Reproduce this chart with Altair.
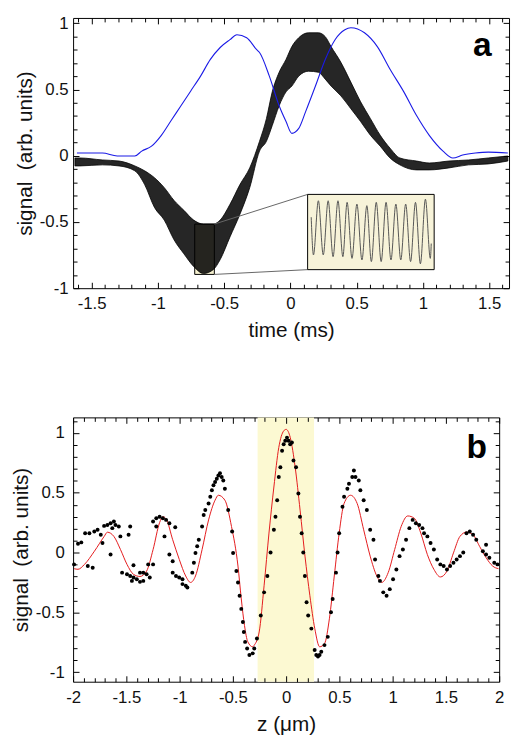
import altair as alt
import pandas as pd

FONT = "Liberation Sans"

# ---------------- Panel a : time traces ----------------
blue_t = [-1.611, -1.419, -1.307, -1.174, -1.122, -1.048, -0.974, -0.900, -0.826, -0.752,
          -0.678, -0.604, -0.530, -0.456, -0.404, -0.330, -0.256, -0.233, -0.159, -0.085,
          -0.033, 0.011, 0.063, 0.115, 0.189, 0.263, 0.337, 0.411, 0.456, 0.559,
          0.656, 0.752, 0.856, 0.952, 1.048, 1.152, 1.226, 1.300, 1.396, 1.493, 1.641]
blue_s = [0.020, 0.020, -0.002, -0.002, 0.035, 0.072, 0.154, 0.266, 0.377, 0.489,
          0.601, 0.727, 0.817, 0.876, 0.913, 0.891, 0.802, 0.779, 0.601, 0.377,
          0.258, 0.169, 0.206, 0.333, 0.526, 0.727, 0.876, 0.951, 0.966, 0.928,
          0.824, 0.653, 0.482, 0.303, 0.154, 0.035, -0.017, 0.005, 0.020, 0.027, 0.020]

black_t = [-1.626, -1.589, -1.419, -1.293, -1.174, -1.100, -1.026, -0.952, -0.878, -0.804,
           -0.730, -0.656, -0.581, -0.530, -0.456, -0.381, -0.307, -0.233, -0.181, -0.137,
           -0.085, -0.033, 0.011, 0.063, 0.137, 0.211, 0.263, 0.307, 0.381, 0.456,
           0.530, 0.604, 0.678, 0.752, 0.826, 0.952, 1.048, 1.196, 1.344, 1.493, 1.641]
black_hi = [-0.017, -0.017, -0.032, -0.040, -0.077, -0.114, -0.166, -0.241, -0.338, -0.412,
            -0.486, -0.516, -0.516, -0.486, -0.367, -0.218, -0.092, 0.109, 0.280, 0.482,
            0.630, 0.727, 0.824, 0.891, 0.928, 0.928, 0.899, 0.824, 0.705, 0.556,
            0.407, 0.280, 0.154, 0.057, -0.017, -0.040, -0.055, -0.040, -0.032, -0.017, -0.002]
black_lo = [-0.077, -0.077, -0.069, -0.077, -0.114, -0.218, -0.390, -0.486, -0.635, -0.740,
            -0.836, -0.889, -0.859, -0.784, -0.613, -0.442, -0.241, 0.035, 0.109, 0.228,
            0.377, 0.482, 0.526, 0.601, 0.638, 0.630, 0.578, 0.526, 0.452, 0.355,
            0.258, 0.154, 0.072, -0.017, -0.069, -0.107, -0.107, -0.092, -0.069, -0.062, -0.040]

# zoomed fringes shown in the inset (already placed in the inset frame)
inset_t = [0.157, 0.174, 0.211, 0.248, 0.285, 0.322, 0.359, 0.396, 0.428, 0.465,
           0.502, 0.540, 0.577, 0.611, 0.648, 0.685, 0.722, 0.759, 0.796, 0.833,
           0.870, 0.907, 0.944, 0.981, 1.019, 1.056, 1.063]
inset_s = [-0.464, -0.749, -0.340, -0.749, -0.340, -0.762, -0.340, -0.762, -0.352, -0.775,
           -0.365, -0.787, -0.377, -0.799, -0.352, -0.799, -0.352, -0.787, -0.365, -0.787,
           -0.365, -0.799, -0.352, -0.816, -0.328, -0.775, -0.663]

zoom_box = {"t0": [-0.722], "t1": [-0.574], "s0": [-0.896], "s1": [-0.516]}
inset_box = {"t0": [0.130], "t1": [1.085], "s0": [-0.860], "s1": [-0.292]}
connect = {"t0": [-0.574, -0.574], "s0": [-0.516, -0.896], "t1": [0.130, 0.130], "s1": [-0.292, -0.860]}

# ---------------- Panel b : z scan ----------------
fit_z = [-1.990, -1.954, -1.893, -1.800, -1.708, -1.678, -1.617, -1.555, -1.494, -1.433,
         -1.372, -1.310, -1.249, -1.188, -1.157, -1.126, -1.065, -1.003, -0.943, -0.897,
         -0.851, -0.789, -0.728, -0.667, -0.636, -0.575, -0.513, -0.452, -0.421, -0.391,
         -0.360, -0.314, -0.299, -0.253, -0.207, -0.161, -0.115, -0.069, -0.023, 0.000,
         0.039, 0.085, 0.131, 0.177, 0.223, 0.269, 0.315, 0.361, 0.406, 0.452,
         0.498, 0.544, 0.605, 0.667, 0.728, 0.789, 0.851, 0.897, 0.958, 1.019,
         1.080, 1.142, 1.203, 1.264, 1.326, 1.387, 1.448, 1.510, 1.571, 1.632,
         1.694, 1.755, 1.816, 1.878, 1.939, 1.994]
fit_s = [-0.135, -0.140, -0.099, 0.011, 0.135, 0.170, 0.135, 0.025, -0.099, -0.182,
         -0.200, -0.155, 0.025, 0.250, 0.300, 0.280, 0.107, -0.058, -0.196, -0.250,
         -0.196, 0.025, 0.273, 0.438, 0.479, 0.438, 0.218, -0.113, -0.388, -0.609,
         -0.746, -0.788, -0.774, -0.664, -0.278, 0.163, 0.548, 0.878, 1.017, 1.030,
         0.961, 0.713, 0.355, -0.030, -0.361, -0.636, -0.788, -0.760, -0.554, -0.196,
         0.163, 0.410, 0.479, 0.410, 0.190, -0.030, -0.196, -0.250, -0.168, 0.025,
         0.218, 0.306, 0.287, 0.163, -0.017, -0.140, -0.204, -0.155, -0.003, 0.135,
         0.171, 0.149, 0.052, -0.044, -0.113, -0.135]

dot_z = [-1.991, -1.954, -1.923, -1.887, -1.862, -1.816, -1.847, -1.801, -1.770, -1.740,
         -1.709, -1.678, -1.648, -1.617, -1.724, -1.648, -1.602, -1.571, -1.632, -1.556,
         -1.540, -1.494, -1.464, -1.433, -1.402, -1.448, -1.372, -1.341, -1.479, -1.464,
         -1.433, -1.341, -1.310, -1.280, -1.295, -1.249, -1.372,
         -1.249, -1.219, -1.188, -1.157, -1.127, -1.096, -1.219, -1.142, -1.041,
         -1.096, -1.065, -1.065, -1.034, -1.004, -0.973, -0.942, -0.927, -0.973,
         -0.881, -0.866, -0.851, -0.835, -0.820, -0.789, -0.774, -0.759, -0.728, -0.712,
         -0.697, -0.682, -0.667, -0.651, -0.636, -0.621, -0.605, -0.590, -0.575, -0.544,
         -0.507, -0.498, -0.467, -0.452, -0.437, -0.421, -0.406, -0.397, -0.385, -0.366,
         -0.345, -0.314,
         -0.299, -0.274, -0.238, -0.207, -0.176, -0.146, -0.115, -0.100, -0.084, -0.069,
         -0.054, -0.038, -0.023, -0.008, 0.008, 0.023, 0.038, 0.054, 0.069, 0.093,
         0.115, 0.130, 0.146, 0.161, 0.176, 0.192, 0.207, 0.237, 0.268, 0.283,
         0.299, 0.314, 0.330, 0.360, 0.391, 0.421, 0.437, 0.468, 0.483, 0.498,
         0.529, 0.544, 0.575, 0.590, 0.621, 0.636, 0.651, 0.682, 0.697, 0.728,
         0.758, 0.789, 0.820, 0.835, 0.866, 0.881, 0.912, 0.943, 0.973, 1.004,
         1.035, 1.065, 1.096, 1.126, 1.157, 1.188, 1.218, 1.249, 1.280, 1.295,
         1.326, 1.356, 1.387, 1.418, 1.448, 1.479, 1.510, 1.540, 1.571, 1.601,
         1.632, 1.663, 1.693, 1.724, 1.755, 1.785, 1.847, 1.877, 1.908, 1.954,
         1.985, 1.877]
dot_s = [-0.099, 0.074, 0.085, 0.162, -0.113, -0.127, 0.162, 0.176, 0.190, 0.149,
         0.223, 0.231, 0.245, 0.259, 0.080, -0.016, 0.231, 0.218, 0.204, 0.135,
         -0.168, -0.182, -0.196, -0.209, -0.223, -0.237, -0.245, -0.237, 0.149, 0.218,
         -0.107, -0.168, -0.182, -0.209, -0.099, -0.099, -0.168,
         0.259, 0.287, 0.300, 0.287, 0.273, 0.245, 0.218, 0.135, 0.212,
         -0.016, -0.072, -0.168, -0.196, -0.209, -0.223, -0.278, -0.292, -0.264,
         -0.168, -0.085, -0.003, 0.052, 0.107, 0.218, 0.314, 0.355, 0.410, 0.466,
         0.521, 0.562, 0.590, 0.617, 0.645, 0.664, 0.631, 0.603, 0.534, 0.355,
         0.176, -0.003, -0.154, -0.251, -0.361, -0.471, -0.581, -0.664, -0.747, -0.802,
         -0.857, -0.843,
         -0.802, -0.719, -0.526, -0.333, -0.196, 0.000, 0.190, 0.300, 0.438, 0.631,
         0.713, 0.851, 0.906, 0.934, 0.961, 0.934, 0.906, 0.920, 0.769, 0.713,
         0.493, 0.300, 0.162, 0.000, -0.196, -0.416, -0.526, -0.636, -0.815, -0.857,
         -0.870, -0.857, -0.829, -0.774, -0.705, -0.499, -0.388, -0.168, 0.000, 0.162,
         0.383, 0.466, 0.534, 0.576, 0.631, 0.686, 0.631, 0.603, 0.521, 0.438,
         0.355, 0.190, 0.107, -0.058, -0.196, -0.237, -0.333, -0.361, -0.306, -0.223,
         -0.141, -0.030, 0.025, 0.107, 0.204, 0.273, 0.245, 0.231, 0.204, 0.162,
         0.135, 0.080, 0.025, -0.058, -0.099, -0.113, -0.141, -0.113, -0.085, -0.058,
         -0.030, 0.000, 0.162, 0.176, 0.149, 0.107, 0.011, -0.016, -0.044, -0.085,
         -0.099, 0.066]

band = {"z0": [-0.268], "z1": [0.262], "s0": [-1.08], "s1": [1.13]}
panel_labels = ["a", "b"]

# ---------------- axes helpers (inward ticks on all four sides) ----------------
COMMON = dict(domain=False, grid=False, tickColor="black", minExtent=0, zindex=1)


def major(orient, values, title=None, pad=8, tpad=8):
    show = orient in ("bottom", "left")
    kw = dict(orient=orient, values=values, tickSize=6, offset=-6, tickWidth=1,
              labels=show, labelFlush=False, labelOverlap=False,
              labelExpr="'' + datum.value", labelFont=FONT, labelFontSize=17,
              labelColor="#111", labelPadding=pad, **COMMON)
    if show:
        kw.update(title=title, titleFont=FONT, titleFontSize=21, titleFontWeight="normal",
                  titleColor="#111", titlePadding=tpad)
    else:
        kw.update(title=None)
    return alt.Axis(**kw)


def minor(orient, values):
    return alt.Axis(orient=orient, values=values, tickSize=4, offset=-4, labels=False,
                    title=None, tickWidth=1, **COMMON)


def tenths(lo, hi):
    vals = [round(v / 10, 1) for v in range(int(round(lo * 10)), int(round(hi * 10)) + 1)]
    return [v for v in vals if abs(v * 2 - round(v * 2)) > 1e-9]

# ---------------- panel a ----------------
xa = alt.Scale(domain=[-1.64, 1.65], nice=False, zero=False)
ya = alt.Scale(domain=[-1.0, 1.04], nice=False, zero=False)
xa_major = [-1.5, -1, -0.5, 0, 0.5, 1, 1.5]
ya_major = [-1, -0.5, 0, 0.5, 1]
xa_minor = tenths(-1.6, 1.6)
ya_minor = tenths(-1.0, 1.0)

y_title = "signal\u00a0 (arb. units)"

zb = alt.Chart(pd.DataFrame(zoom_box)).mark_rect(fill="#f6f1cf", stroke="black", strokeWidth=1).encode(
    x=alt.X("t0:Q", scale=xa, axis=major("bottom", xa_major, "time (ms)", pad=8, tpad=8)),
    x2="t1:Q",
    y=alt.Y("s0:Q", scale=ya, axis=major("left", ya_major, y_title, pad=5, tpad=4)),
    y2="s1:Q")

dfb = pd.DataFrame({"t": black_t, "hi": black_hi, "lo": black_lo})
blk = alt.Chart(dfb).mark_area(color="black", fillOpacity=0.85, stroke="black", strokeWidth=0.8,
                               interpolate="monotone").encode(
    x=alt.X("t:Q", scale=xa, axis=minor("bottom", xa_minor)),
    y=alt.Y("hi:Q", scale=ya, axis=minor("left", ya_minor)),
    y2="lo:Q")

blu = alt.Chart(pd.DataFrame({"t": blue_t, "s": blue_s})).mark_line(
    color="#1a1ae6", strokeWidth=1.1, interpolate="monotone").encode(
    x=alt.X("t:Q", scale=xa, axis=major("top", xa_major)),
    y=alt.Y("s:Q", scale=ya, axis=major("right", ya_major)))

con = alt.Chart(pd.DataFrame(connect)).mark_rule(color="#666", strokeWidth=1).encode(
    x=alt.X("t0:Q", scale=xa, axis=minor("top", xa_minor)),
    y=alt.Y("s0:Q", scale=ya, axis=minor("right", ya_minor)),
    x2="t1:Q", y2="s1:Q")

ib = alt.Chart(pd.DataFrame(inset_box)).mark_rect(fill="#f7f3d9", stroke="black", strokeWidth=1).encode(
    x=alt.X("t0:Q", scale=xa, axis=None), x2="t1:Q",
    y=alt.Y("s0:Q", scale=ya, axis=None), y2="s1:Q")

il = alt.Chart(pd.DataFrame({"t": inset_t, "s": inset_s})).mark_line(
    color="#555", strokeWidth=1, interpolate="monotone").encode(
    x=alt.X("t:Q", scale=xa, axis=None),
    y=alt.Y("s:Q", scale=ya, axis=None))

ta = alt.Chart(pd.DataFrame({"t": [1.448], "s": [0.825], "lab": [panel_labels[0]]})).mark_text(
    font=FONT, fontSize=34, fontWeight="bold", color="black", baseline="middle", align="center").encode(
    x=alt.X("t:Q", scale=xa, axis=None), y=alt.Y("s:Q", scale=ya, axis=None), text="lab:N")

panel_a = alt.layer(zb, blk, blu, con, ib, il, ta).resolve_axis(
    x="independent", y="independent").properties(width=442, height=274)

# ---------------- panel b ----------------
xb = alt.Scale(domain=[-2, 2], nice=False, zero=False)
yb = alt.Scale(domain=[-1.08, 1.13], nice=False, zero=False)
xb_major = [-2, -1.5, -1, -0.5, 0, 0.5, 1, 1.5, 2]
yb_major = [-1, -0.5, 0, 0.5, 1]
xb_minor = tenths(-2.0, 2.0)
yb_minor = tenths(-1.0, 1.1)

bd = alt.Chart(pd.DataFrame(band)).mark_rect(fill="#fcf9d2").encode(
    x=alt.X("z0:Q", scale=xb, axis=minor("top", xb_minor)), x2="z1:Q",
    y=alt.Y("s0:Q", scale=yb, axis=minor("right", yb_minor)), y2="s1:Q")

fit = alt.Chart(pd.DataFrame({"z": fit_z, "s": fit_s})).mark_line(
    color="#e41a1c", strokeWidth=1, interpolate="monotone").encode(
    x=alt.X("z:Q", scale=xb, axis=major("bottom", xb_major, "z (μm)", pad=8, tpad=8)),
    y=alt.Y("s:Q", scale=yb, axis=major("left", yb_major, y_title, pad=9, tpad=4)))

dots = alt.Chart(pd.DataFrame({"z": dot_z, "s": dot_s})).mark_circle(
    color="black", size=16, opacity=1).encode(
    x=alt.X("z:Q", scale=xb, axis=minor("bottom", xb_minor)),
    y=alt.Y("s:Q", scale=yb, axis=minor("left", yb_minor)))

tb = alt.Chart(pd.DataFrame({"z": [1.79], "s": [0.876], "lab": [panel_labels[1]]})).mark_text(
    font=FONT, fontSize=34, fontWeight="bold", color="black", baseline="middle", align="center").encode(
    x=alt.X("z:Q", scale=xb, axis=major("top", xb_major)),
    y=alt.Y("s:Q", scale=yb, axis=major("right", yb_major)), text="lab:N")

panel_b = alt.layer(bd, fit, dots, tb).resolve_axis(
    x="independent", y="independent").properties(width=432, height=268)

chart = alt.vconcat(panel_a, panel_b, spacing=76).properties(
    padding={"left": 2, "top": 0, "right": 0, "bottom": 0},
    background="white",
).configure_view(stroke="black", strokeWidth=1)

chart.save("out.html", embed_options={"renderer": "svg", "actions": False})
